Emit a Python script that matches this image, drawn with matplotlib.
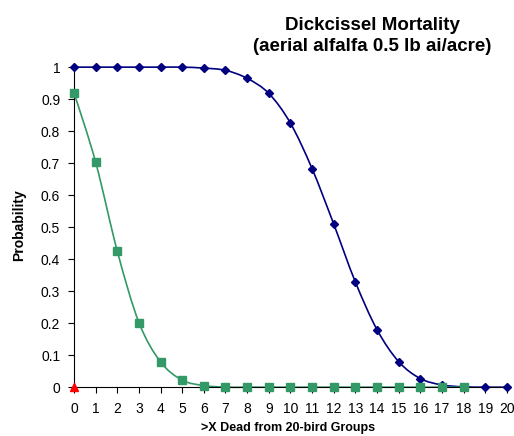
import numpy as np
import matplotlib
matplotlib.use("Agg")
import matplotlib.pyplot as plt
from matplotlib.path import Path
from matplotlib.patches import PathPatch

plt.rcParams['font.family'] = ['Liberation Sans', 'DejaVu Sans']

x_dead = list(range(21))
p_high = [1.0, 1.0, 1.0, 1.0, 1.0, 1.0, 0.997, 0.99, 0.965, 0.918, 0.825,
          0.683, 0.51, 0.329, 0.18, 0.08, 0.027, 0.007, 0.001, 0.0, 0.0]
x_low = list(range(19))
p_low = [0.92, 0.703, 0.425, 0.202, 0.079, 0.022, 0.005, 0.0, 0.0, 0.0,
         0.0, 0.0, 0.0, 0.0, 0.0, 0.0, 0.0, 0.0, 0.0]
x_zero = [0]
p_zero = [0.0]

title = "Dickcissel Mortality\n(aerial alfalfa 0.5 lb ai/acre)"
xlabel = ">X Dead from 20-bird Groups"
ylabel = "Probability"


def smooth_path(xs, ys):
    # Catmull-Rom style bezier, like a spreadsheet "smoothed line"
    xs = np.asarray(xs, float)
    ys = np.asarray(ys, float)
    pts = np.column_stack([xs, ys])
    verts = [pts[0]]
    codes = [Path.MOVETO]
    n = len(pts)
    for i in range(n - 1):
        p0 = pts[i - 1] if i > 0 else pts[i]
        p1 = pts[i]
        p2 = pts[i + 1]
        p3 = pts[i + 2] if i + 2 < n else pts[i + 1]
        c1 = p1 + (p2 - p0) / 6.0
        c2 = p2 - (p3 - p1) / 6.0
        verts += [c1, c2, p2]
        codes += [Path.CURVE4] * 3
    return Path(verts, codes)


fig = plt.figure(figsize=(5.14, 4.36), dpi=100)
ax = fig.add_axes([0.144, 0.112, 0.842, 0.734])

navy = '#000080'
green = '#339966'

ax.add_patch(PathPatch(smooth_path(x_dead, p_high), fill=False,
                       edgecolor=navy, lw=1.2, clip_on=False))
ax.plot(x_dead, p_high, ls='none', marker='D', ms=4.5, color=navy,
        clip_on=False, zorder=3)
ax.add_patch(PathPatch(smooth_path(x_low, p_low), fill=False,
                       edgecolor=green, lw=1.2, clip_on=False))
ax.plot(x_low, p_low, ls='none', marker='s', ms=6, color=green,
        clip_on=False, zorder=4)
ax.plot(x_zero, p_zero, ls='none', marker='^', ms=6, color='#ff0000',
        clip_on=False, zorder=5)

ax.set_xlim(0, 20)
ax.set_ylim(0, 1)
ax.set_xticks(x_dead)
ax.set_yticks(np.arange(0, 1.01, 0.1))
ax.set_yticklabels(['0', '0.1', '0.2', '0.3', '0.4', '0.5', '0.6', '0.7',
                    '0.8', '0.9', '1'])
ax.tick_params(axis='both', labelsize=10, length=4, width=0.8,
               direction='out', colors='black')
ax.tick_params(axis='x', pad=7)
ax.tick_params(axis='y', pad=6)
ax.spines['top'].set_visible(False)
ax.spines['right'].set_visible(False)

fig.text(0.038, 0.484, ylabel, rotation=90, ha='center', va='center',
         fontsize=10, fontweight='bold')
fig.text(0.56, 0.004, xlabel, ha='center', va='bottom', fontsize=9,
         fontweight='bold')

fig.text(0.724, 0.918, title, ha='center', va='center', fontsize=13.5,
         fontweight='bold', linespacing=1.3)

fig.savefig("out.png", dpi=100)
